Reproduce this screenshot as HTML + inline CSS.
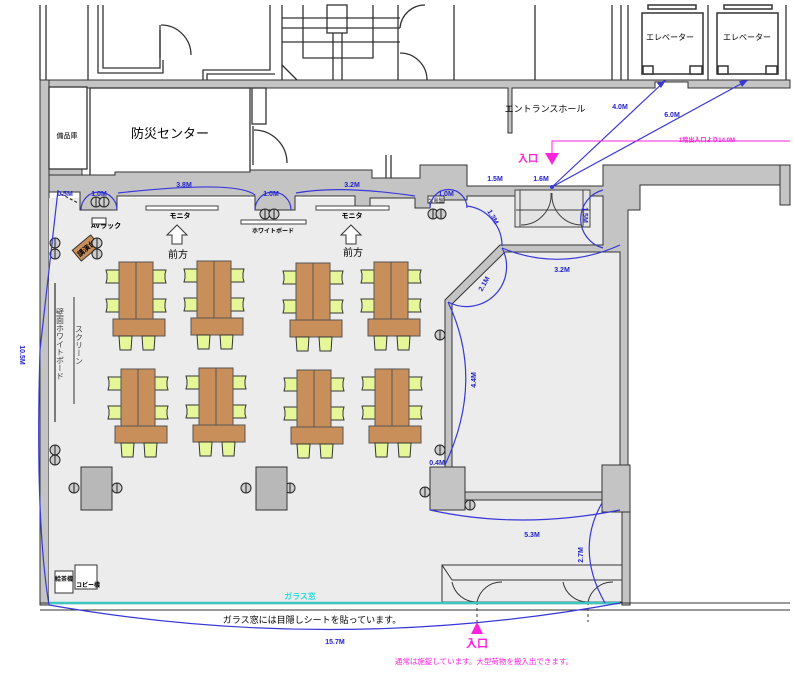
<!DOCTYPE html>
<html><head><meta charset="utf-8"><style>
html,body{margin:0;padding:0;background:#fff;}
svg{display:block;font-family:"Liberation Sans","Noto Sans CJK JP",sans-serif;}
</style></head><body>
<svg width="794" height="674" viewBox="0 0 794 674" xmlns="http://www.w3.org/2000/svg">
<defs>
<g id="ch"><path d="M0,0 h14 l-1,4 v5 l1,4 h-14 l1,-4 v-5z" fill="#e6f79a" stroke="#333" stroke-width="1"/></g>
<g id="chv"><path d="M0,0 h13 l-1,14 h-11z" fill="#e6f79a" stroke="#333" stroke-width="1"/></g>
<g id="grp">
 <use href="#ch" x="0" y="8"/><use href="#ch" x="0" y="37"/>
 <use href="#ch" x="46" y="8"/><use href="#ch" x="46" y="37"/>
 <rect x="13" y="0" width="17" height="57" fill="#c98f5a" stroke="#555"/>
 <rect x="30" y="0" width="17" height="57" fill="#c98f5a" stroke="#555"/>
 <rect x="7" y="57" width="52" height="17" fill="#c98f5a" stroke="#555"/>
 <use href="#chv" x="13" y="74"/><use href="#chv" x="36" y="74"/>
</g>
<g id="ro"><circle r="5" fill="#ccc" stroke="#222"/><line x1="0" y1="-5" x2="0" y2="5" stroke="#222"/></g>
</defs>

<!-- top building lines -->
<g stroke="#333" fill="none" stroke-width="1.3">
<line x1="40" y1="5" x2="40" y2="80"/><line x1="46" y1="5" x2="46" y2="80"/>
<line x1="88" y1="5" x2="88" y2="80"/>
<polyline points="98,5 98,73 163,73 163,60"/><polyline points="103,5 103,68 160,68 160,30"/>
<line x1="160" y1="25" x2="160" y2="58"/><path d="M161,25 A30,30 0 0 1 191,55"/>
<polyline points="203,80 203,70 270,70 270,5"/><polyline points="207,80 207,74 275,74"/>
<line x1="282" y1="5" x2="282" y2="80"/>
<polyline points="282,18 400,18"/><polyline points="282,28 400,28"/><polyline points="282,42 400,42"/>
<polyline points="303,5 303,58 373,58 373,5"/>
<rect x="327" y="5" width="20" height="28"/>
<line x1="333" y1="33" x2="333" y2="80"/><line x1="342" y1="33" x2="342" y2="80"/>
<line x1="282" y1="65" x2="297" y2="80"/>
<line x1="398" y1="5" x2="398" y2="80"/>
<path d="M400,28 A25,25 0 0 1 425,5"/><path d="M400,53 A27,27 0 0 1 427,80"/>
<line x1="454" y1="5" x2="454" y2="80"/><line x1="535" y1="5" x2="535" y2="80"/>
<line x1="612" y1="5" x2="612" y2="80"/><line x1="621" y1="5" x2="621" y2="80"/><line x1="628" y1="5" x2="628" y2="80"/>
<line x1="708" y1="5" x2="708" y2="80"/><line x1="786" y1="5" x2="786" y2="80"/>
</g>
<!-- elevators -->
<g stroke="#333" fill="#fff" stroke-width="1.5">
<rect x="648" y="5" width="48" height="4"/><rect x="724" y="5" width="48" height="4"/>
<rect x="642" y="13" width="61" height="61"/><rect x="717" y="13" width="61" height="61"/>
<rect x="643" y="66" width="10" height="8"/><rect x="690" y="66" width="12" height="8"/>
<rect x="718" y="66" width="10" height="8"/><rect x="766" y="66" width="11" height="8"/>
</g>
<text x="670" y="40" font-size="8" text-anchor="middle">エレベーター</text>
<text x="747" y="40" font-size="8" text-anchor="middle">エレベーター</text>

<!-- top wall -->
<g fill="#c4c4c4" stroke="#333" stroke-width="1">
<path d="M40,80 H790 V88 H688 V82 H655 V88 H512 V133 H508 V88 H40Z"/>
<rect x="40" y="80" width="9" height="525"/>
<path d="M49,168 H82 V178 H49Z"/>
</g>
<!-- rooms -->
<g stroke="#333" fill="#fff" stroke-width="1.3">
<rect x="49" y="87" width="38" height="82"/>
<rect x="90" y="88" width="160" height="88"/>
<rect x="252" y="88" width="14" height="36"/>
<line x1="253" y1="126" x2="253" y2="165"/><path d="M254,130 A33,33 0 0 1 287,163"/>
<line x1="386" y1="155" x2="386" y2="178"/><line x1="391" y1="155" x2="391" y2="178"/>
</g>
<text x="67" y="138" font-size="7" text-anchor="middle">備品庫</text>
<text x="170" y="138" font-size="13" text-anchor="middle">防災センター</text>
<text x="545" y="112" font-size="9" text-anchor="middle">エントランスホール</text>

<!-- floor -->
<path d="M49,198 H600 V190 H622 V465 H602 V492 H465 V467 H450 V300 L502,248 H620 V190 H622 V605 H49Z" fill="#ececec"/>
<path d="M49,198 H467 V186 H602 V248 H502 L450,300 V467 H430 V510 H465 V500 H602 V512 H622 V605 H49Z" fill="#ececec"/>
<!-- upper walls band -->
<g fill="#c4c4c4" stroke="#333" stroke-width="1">
<path d="M82,175 H115 V172 H250 V170 H372 V178 H420 V165 H467 V186 H603 V165 H640 V165 H790 V185 H640 V210 H628 V465 H620 V252 H505 L452,304 V467 H445 V300 L500,245 H603 V196 H467 V200 H430 V208 H415 V198 H370 V210 H355 V196 H295 V210 H255 V196 H117 V210 H80 V192 H49 V175Z"/>
<rect x="780" y="165" width="10" height="40"/>
<rect x="430" y="467" width="35" height="43"/>
<rect x="465" y="492" width="138" height="8"/>
<rect x="602" y="465" width="28" height="47"/>
<rect x="622" y="512" width="8" height="93"/>
</g>
<!-- door arcs for room -->
<g stroke="#444" fill="none">
<rect x="515" y="190" width="75" height="37" fill="#e4e4e4"/>
<line x1="520" y1="190" x2="520" y2="227"/><line x1="583" y1="190" x2="583" y2="227"/>
<path d="M521,225 A30,30 0 0 0 551,193"/><path d="M582,225 A30,30 0 0 1 552,193"/>
<line x1="516" y1="210" x2="590" y2="210"/>
</g>

<!-- glass/bottom -->
<g stroke="#333" fill="none">
<line x1="40" y1="603" x2="790" y2="603"/><line x1="40" y1="610" x2="790" y2="610"/>
<rect x="442" y="565" width="180" height="37"/><line x1="442" y1="565" x2="452" y2="580"/>
<line x1="452" y1="580" x2="622" y2="580"/>
<path d="M452,582 A25,25 0 0 0 477,602 A25,25 0 0 1 502,582"/>
<path d="M563,582 A25,25 0 0 0 588,602 A25,25 0 0 1 613,582"/>
<line x1="477" y1="602" x2="477" y2="622" stroke-dasharray="3,3"/>
<line x1="588" y1="602" x2="588" y2="622" stroke-dasharray="3,3"/>
</g>
<line x1="49" y1="603" x2="620" y2="603" stroke="#3cc8c0" stroke-width="2.5"/>
<text x="300" y="599" font-size="8" fill="#33dddd" text-anchor="middle" font-weight="bold">ガラス窓</text>

<!-- monitors / whiteboard -->
<g stroke="#444" fill="#fff">
<rect x="146" y="206" width="72" height="4"/><rect x="316" y="206" width="73" height="4"/>
<rect x="241" y="220" width="65" height="4"/>
</g>
<text x="180" y="218" font-size="7" text-anchor="middle" font-weight="bold">モニタ</text>
<text x="352" y="218" font-size="7" text-anchor="middle" font-weight="bold">モニタ</text>
<text x="273" y="233" font-size="6" text-anchor="middle" font-weight="bold">ホワイトボード</text>
<text x="106" y="228" font-size="7" text-anchor="middle" font-weight="bold">AVラック</text>
<rect x="92" y="218" width="14" height="6" fill="#fff" stroke="#333"/>
<rect x="428" y="196" width="16" height="7" fill="#fff" stroke="#333"/>
<text x="436" y="202" font-size="5" text-anchor="middle">分電盤</text>
<g fill="#fff" stroke="#333"><path d="M172,226 h10 v9 h5 l-10,10 l-10,-10 h5z" transform="rotate(180 177 235)"/><path d="M346,226 h10 v9 h5 l-10,10 l-10,-10 h5z" transform="rotate(180 351 235)"/></g>
<text x="178" y="258" font-size="10" text-anchor="middle">前方</text>
<text x="353" y="256" font-size="10" text-anchor="middle">前方</text>
<g transform="translate(86,248) rotate(-40)"><rect x="-12" y="-7" width="24" height="14" fill="#c98f5a" stroke="#333"/><text x="0" y="3" font-size="7" text-anchor="middle" font-weight="bold">講演台</text></g>
<line x1="55" y1="283" x2="55" y2="422" stroke="#555" stroke-width="1.5"/>
<line x1="74" y1="297" x2="74" y2="404" stroke="#333"/>
<text font-size="8" fill="#444" writing-mode="tb" x="60" y="308">壁面ホワイトボード</text>
<text font-size="8" fill="#444" writing-mode="tb" x="79" y="325">スクリーン</text>

<!-- table groups -->
<use href="#grp" x="106" y="262"/><use href="#grp" x="184" y="261"/>
<use href="#grp" x="283" y="263"/><use href="#grp" x="361" y="262"/>
<use href="#grp" x="108" y="369"/><use href="#grp" x="186" y="368"/>
<use href="#grp" x="284" y="370"/><use href="#grp" x="362" y="369"/>
<!-- round stools -->
<use href="#ro" x="96" y="202"/><use href="#ro" x="104" y="202"/>
<use href="#ro" x="265" y="214"/><use href="#ro" x="274" y="214"/>
<use href="#ro" x="433" y="214"/><use href="#ro" x="441" y="214"/>
<use href="#ro" x="97" y="243"/><use href="#ro" x="97" y="254"/>
<use href="#ro" x="55" y="243"/><use href="#ro" x="55" y="254"/>
<use href="#ro" x="55" y="450"/><use href="#ro" x="55" y="460"/>
<use href="#ro" x="440" y="335"/><use href="#ro" x="440" y="450"/>
<use href="#ro" x="425" y="492"/><use href="#ro" x="470" y="505"/>
<use href="#ro" x="74" y="488"/><use href="#ro" x="117" y="488"/>
<use href="#ro" x="246" y="488"/><use href="#ro" x="290" y="488"/>
<rect x="81" y="467" width="31" height="43" fill="#b8b8b8" stroke="#333"/>
<rect x="256" y="467" width="31" height="43" fill="#b8b8b8" stroke="#333"/>
<!-- machines -->
<rect x="55" y="571" width="18" height="22" fill="#fff" stroke="#333"/>
<rect x="75" y="565" width="22" height="24" fill="#fff" stroke="#333"/>
<text x="64" y="581" font-size="6" font-weight="bold" text-anchor="middle">給茶機</text>
<text x="88" y="587" font-size="6" font-weight="bold" text-anchor="middle">コピー機</text>

<!-- blue dimensions -->
<g stroke="#3838d8" fill="none" stroke-width="1.2">
<path d="M81,210 A18,18 0 0 1 117,210"/><path d="M255,210 A18,18 0 0 1 291,210"/>
<path d="M430,208 A18,18 0 0 1 467,208"/>
<path d="M118,193 Q236,180 255,195"/><path d="M296,193 Q340,185 415,196"/>
<path d="M467,206 A40,40 0 0 1 502,246"/>
<path d="M502,248 A40,40 0 0 1 448,302"/>
<path d="M502,248 Q560,272 620,245"/>
<path d="M603,190 A30,30 0 0 0 603,248"/>
<path d="M448,302 Q485,380 445,465"/>
<path d="M430,510 Q520,530 620,510"/>
<path d="M602,503 Q575,550 605,603"/>
<path d="M49,605 Q335,655 620,603"/>
<path d="M58,190 L40,350 Q35,520 49,605"/>
<line x1="61" y1="194" x2="78" y2="203" stroke-dasharray="3,2" stroke="#333"/>
<line x1="552" y1="187" x2="666" y2="80"/><line x1="552" y1="187" x2="748" y2="80"/>
</g>
<g fill="#3838d8"><path d="M666,80 l-9,3 l4,5z"/><path d="M748,80 l-9,1 l3,6z"/><circle cx="552" cy="187" r="2"/></g>
<g fill="#2222cc" font-size="7" font-weight="bold" text-anchor="middle">
<text x="65" y="196">0.5M</text><text x="99" y="196">1.0M</text><text x="184" y="187">3.8M</text>
<text x="271" y="196">1.0M</text><text x="352" y="187">3.2M</text><text x="446" y="196">1.0M</text>
<text x="495" y="181">1.5M</text><text x="541" y="181">1.6M</text>
<text x="620" y="109">4.0M</text><text x="672" y="117">6.0M</text>
<text x="491" y="218" transform="rotate(60 491 218)">1.3M</text>
<text x="486" y="285" transform="rotate(-60 486 285)">2.1M</text>
<text x="562" y="272">3.2M</text>
<text x="583" y="215" transform="rotate(90 583 215)">1.5M</text>
<text x="476" y="380" transform="rotate(-90 476 380)">4.4M</text>
<text x="437" y="465">0.4M</text><text x="532" y="537">5.3M</text>
<text x="583" y="555" transform="rotate(-90 583 555)">2.7M</text>
<text x="20" y="355" transform="rotate(90 20 355)">10.5M</text>
<text x="335" y="644">15.7M</text>
</g>
<!-- magenta -->
<g stroke="#ff22dd" fill="none"><polyline points="790,141 552,141 552,155"/></g>
<path d="M545,153 h14 l-7,12z" fill="#ff22dd"/>
<text x="538" y="162" font-size="10" fill="#ff22dd" font-weight="bold" text-anchor="end">入口</text>
<text x="707" y="142" font-size="6" fill="#ff22dd" font-weight="bold" text-anchor="middle">1階出入口より14.0M</text>
<path d="M477,622 l-6,12 h12z" fill="#ff22dd"/>
<text x="477" y="647" font-size="11" fill="#ff22dd" font-weight="bold" text-anchor="middle">入口</text>
<text x="484" y="664" font-size="7.5" fill="#ff22dd" text-anchor="middle">通常は施錠しています。大型荷物を搬入出できます。</text>
<text x="312" y="623" font-size="9" text-anchor="middle">ガラス窓には目隠しシートを貼っています。</text>
</svg>
</body></html>
